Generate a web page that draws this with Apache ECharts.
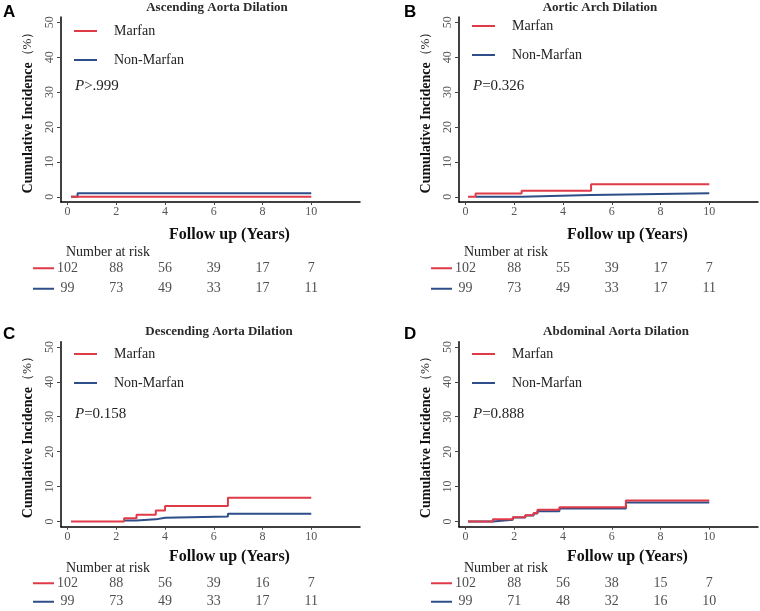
<!DOCTYPE html>
<html>
<head>
<meta charset="utf-8">
<script src="https://cdn.jsdelivr.net/npm/echarts@6/dist/echarts.min.js"></script>
<style>
  html, body { margin: 0; padding: 0; background: #fff; }
  #chart { width: 760px; height: 611px; }
</style>
</head>
<body>
<div id="chart"></div>
<script>
// panel titles and p values
const panelLetters = ['A', 'B', 'C', 'D']
const panelTitles = ['Ascending Aorta Dilation', 'Aortic Arch Dilation', 'Descending Aorta Dilation', 'Abdominal Aorta Dilation']
const pSigns = ['>', '=', '=', '=']
const pValues = ['.999', '0.326', '0.158', '0.888']
const groups = ['Marfan', 'Non-Marfan']

// cumulative incidence curves: [years, %] step points
const marfanA = [[0.14, 0], [10, 0]]
const nonMarfanA = [[0.14, 0], [0.41, 1.0], [10, 1.0]]
const marfanB = [[0.1, 0], [0.41, 0.9], [2.3, 1.7], [5.15, 3.6], [10, 3.6]]
const nonMarfanB = [[0.41, 0], [2.3, 0.5], [5.15, 1.0], [10, 1.0]]
const marfanC = [[0.14, 0], [2.32, 0.95], [2.83, 1.9], [3.62, 3.15], [4.0, 4.4], [6.58, 6.8], [10, 6.8]]
const nonMarfanC = [[2.32, 0.3], [2.83, 0.6], [3.62, 1.05], [4.0, 1.45], [6.58, 2.2], [10, 2.2]]
const marfanD = [[0.1, 0], [1.12, 0.6], [1.94, 1.2], [2.45, 1.8], [2.79, 2.4], [2.95, 3.35], [3.85, 4.1], [6.58, 6.0], [10, 6.0]]
const nonMarfanD = [[0.1, 0], [1.12, 0.5], [1.94, 1.1], [2.45, 1.7], [2.79, 2.3], [2.95, 2.95], [3.85, 3.7], [6.58, 5.45], [10, 5.45]]

// number at risk
const riskYears = [0, 2, 4, 6, 8, 10]
const riskMarfanA = [102, 88, 56, 39, 17, 7]
const riskNonMarfanA = [99, 73, 49, 33, 17, 11]
const riskMarfanB = [102, 88, 55, 39, 17, 7]
const riskNonMarfanB = [99, 73, 49, 33, 17, 11]
const riskMarfanC = [102, 88, 56, 39, 16, 7]
const riskNonMarfanC = [99, 73, 49, 33, 17, 11]
const riskMarfanD = [102, 88, 56, 38, 15, 7]
const riskNonMarfanD = [99, 71, 48, 32, 16, 10]

// tick labels
const yTicks = [0, 10, 20, 30, 40, 50]
const xTicks = [0, 2, 4, 6, 8, 10]

const curves = [
  [marfanA, nonMarfanA], [marfanB, nonMarfanB], [marfanC, nonMarfanC], [marfanD, nonMarfanD]
]
const risks = [
  [riskMarfanA, riskNonMarfanA], [riskMarfanB, riskNonMarfanB],
  [riskMarfanC, riskNonMarfanC], [riskMarfanD, riskNonMarfanD]
]

const RED = '#df3a48'
const BLUE = '#2d4e88'
const SERIF = '"Liberation Serif", "Times New Roman", serif'
const SANS = '"Liberation Sans", Arial, sans-serif'

// layout per panel
const panels = [
  { left: 61, top: 17, titleX: 217, titleTop: 1, letterX: 3, letterTop: 4, legendTop: 24, pTop: 79, nameGap: 25, riskTop: 245 },
  { left: 459, top: 17, titleX: 600, titleTop: 1, letterX: 404, letterTop: 4, legendTop: 19, pTop: 79, nameGap: 25, riskTop: 245 },
  { left: 61, top: 341.7, titleX: 219, titleTop: 325, letterX: 3, letterTop: 326, legendTop: 347, pTop: 407, nameGap: 22, riskTop: 561 },
  { left: 459, top: 341.7, titleX: 616, titleTop: 325, letterX: 404, letterTop: 326, legendTop: 347, pTop: 407, nameGap: 22, riskTop: 561 }
]

const grid = [], xAxis = [], yAxis = [], series = [], title = [], legend = []

panels.forEach((p, i) => {
  // curve grid
  grid.push({ left: p.left, top: p.top, width: 299, height: 185 })
  // risk table grid
  grid.push({ left: p.left, top: p.riskTop + 13, width: 299, height: 41 })

  xAxis.push({
    gridIndex: i * 2, type: 'value', min: -0.27, max: 12,
    name: 'Follow up (Years)', nameLocation: 'middle', nameGap: p.nameGap,
    nameTextStyle: { fontFamily: SERIF, fontWeight: 'bold', fontSize: 16, color: '#111', padding: [0, 0, 0, 38] },
    axisLine: { onZero: false, lineStyle: { color: '#000', width: 1.5 } },
    axisTick: { customValues: xTicks, length: 3, lineStyle: { color: '#444' } },
    axisLabel: { customValues: xTicks, margin: 4, fontFamily: SERIF, fontSize: 12, color: '#555' },
    splitLine: { show: false }
  })
  yAxis.push({
    gridIndex: i * 2, type: 'value', min: -1.5, max: 51.5,
    name: '{b|Cumulative Incidence}{n|（%）}', nameLocation: 'middle', nameGap: 26,
    nameTextStyle: {
      rich: {
        b: { fontFamily: SERIF, fontWeight: 'bold', fontSize: 14, color: '#111' },
        n: { fontFamily: SERIF, fontWeight: 'normal', fontSize: 13, color: '#222' }
      }
    },
    axisLine: { onZero: false, lineStyle: { color: '#000', width: 1.5 } },
    axisTick: { customValues: yTicks, length: 4, lineStyle: { color: '#444' } },
    axisLabel: { customValues: yTicks, rotate: 90, margin: 5, fontFamily: SERIF, fontSize: 12, color: '#555' },
    splitLine: { show: false }
  })

  xAxis.push({ gridIndex: i * 2 + 1, type: 'value', min: -0.27, max: 12, show: false })
  yAxis.push({
    gridIndex: i * 2 + 1, type: 'category', data: groups, inverse: true,
    axisLine: { show: false }, axisTick: { show: false }, splitLine: { show: false },
    axisLabel: {
      margin: 7,
      formatter: v => v === 'Marfan' ? '{r|}' : '{u|}',
      rich: {
        r: { width: 21, height: 2, backgroundColor: RED },
        u: { width: 21, height: 2, backgroundColor: BLUE }
      }
    }
  })

  // blue first so red sits on top
  series.push({
    name: 'Non-Marfan', type: 'line', step: 'end', xAxisIndex: i * 2, yAxisIndex: i * 2,
    data: curves[i][1], symbol: 'none', lineStyle: { color: BLUE, width: 2 }, itemStyle: { color: BLUE }
  })
  series.push({
    name: 'Marfan', type: 'line', step: 'end', xAxisIndex: i * 2, yAxisIndex: i * 2,
    data: curves[i][0], symbol: 'none', lineStyle: { color: RED, width: 2 }, itemStyle: { color: RED }
  })

  groups.forEach((g, k) => {
    series.push({
      name: g + ' at risk', type: 'scatter', xAxisIndex: i * 2 + 1, yAxisIndex: i * 2 + 1,
      data: riskYears.map((t, j) => [t, g, risks[i][k][j]]),
      symbolSize: 1, itemStyle: { color: 'rgba(0,0,0,0)' },
      label: {
        show: true, position: 'inside', formatter: d => d.value[2],
        fontFamily: SERIF, fontSize: 14, color: '#222'
      },
      silent: true
    })
  })

  legend.push({
    orient: 'vertical', left: p.left + 13, top: p.legendTop, padding: 0, itemGap: 15,
    itemWidth: 35, itemHeight: 14,
    icon: 'path://M0,0L23,0L23,2L0,2Z M35,0L35,2',
    data: ['Marfan', 'Non-Marfan'],
    textStyle: { fontFamily: SERIF, fontSize: 14, color: '#222' }
  })

  title.push({
    text: panelTitles[i], left: p.titleX, top: p.titleTop, textAlign: 'center', padding: 0,
    textStyle: { fontFamily: SERIF, fontWeight: 'bold', fontSize: 13, color: '#2a2a2a' }
  })
  title.push({
    text: panelLetters[i], left: p.letterX, top: p.letterTop, padding: 0,
    textStyle: { fontFamily: SANS, fontWeight: 'bold', fontSize: 17, color: '#000' }
  })
  title.push({
    text: '{i|P}{n|' + pSigns[i] + pValues[i] + '}', left: p.left + 14, top: p.pTop, padding: 0,
    textStyle: {
      fontWeight: 'normal',
      rich: {
        i: { fontFamily: SERIF, fontStyle: 'italic', fontWeight: 'normal', fontSize: 15, color: '#222' },
        n: { fontFamily: SERIF, fontWeight: 'normal', fontSize: 15, color: '#222' }
      }
    }
  })
  title.push({
    text: 'Number at risk', left: p.left + 5, top: p.riskTop, padding: 0,
    textStyle: { fontFamily: SERIF, fontWeight: 'normal', fontSize: 14, color: '#222' }
  })
})

const chart = echarts.init(document.getElementById('chart'))
chart.setOption({
  animation: false,
  backgroundColor: '#fff',
  title, legend, grid, xAxis, yAxis, series
})
window.addEventListener('resize', () => chart.resize())
</script>
</body>
</html>
